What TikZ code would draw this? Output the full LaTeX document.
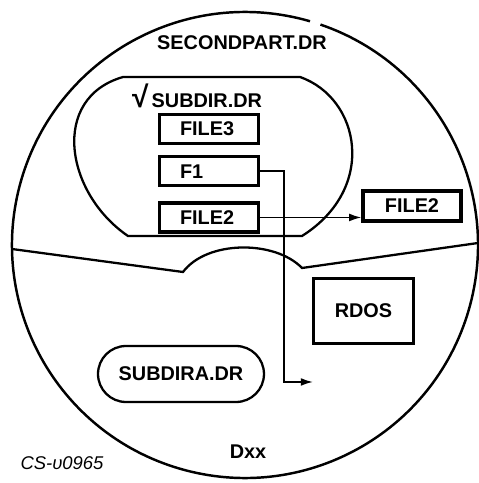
\documentclass[tikz,border=0pt]{standalone}
\usepackage{fontspec}
\setmainfont{Liberation Sans}
\usetikzlibrary{positioning,arrows.meta}

\begin{document}
\begin{tikzpicture}[scale=0.02,>={Latex[length=7pt,width=4.5pt]},
  lbl/.style={font=\fontsize{11.3}{13}\selectfont\bfseries},
  filebox/.style={lbl,draw,line width=1.9pt,minimum width=1.98cm,minimum height=0.58cm,inner sep=0pt},
  leftbox/.style={filebox,text width=1.16cm,inner xsep=0.41cm,align=left}]
  \useasboundingbox (0,0) rectangle (479,483);
  % the disk, with its small gap at the top
  \draw[line width=1.4pt] (245,238) ++(73.8:233) arc[start angle=73.8,end angle=431.1,radius=233];
  % SUBDIR.DR outline
  \draw[line width=1.3pt] (123,406) -- (300,406) .. controls (360,385) and (378,295) .. (302,247)
    -- (128,247) .. controls (65,290) and (50,385) .. (123,406) -- cycle;
  % partition line
  \draw[line width=1.3pt] (12,234) -- (183,211) .. controls (207,243) and (275,243) .. (302,215) -- (478,240);

  \node[lbl] (second) at (242,440) {SECONDPART.DR};
  \node[lbl] (subdir) at (197,387) {{\fontsize{17}{17}\selectfont √}\,SUBDIR.DR};
  \node[leftbox] (file3) at (209,354) {FILE3};
  \node[leftbox,below=0.2cm of file3] (f1) {F1};
  \node[leftbox,below=0.28cm of f1] (filetwo) {FILE2};
  \node[filebox,minimum width=1.96cm,minimum height=0.6cm] (copy) at (412,277) {FILE2};
  \node[filebox,minimum width=2cm,minimum height=1.3cm] (rdos) at (363.5,172) {RDOS};
  \node[lbl,draw,line width=1.3pt,rounded corners=0.56cm,minimum width=3.32cm,minimum height=1.12cm] (subdira) at (181,109) {SUBDIRA.DR};
  \node[lbl] (dxx) at (248,31) {Dxx};
  \node[font=\fontsize{10.5}{12}\selectfont\itshape] (csno) at (62,20) {CS-υ0965};

  \coordinate (fend) at (313,101);
  \draw[->,line width=1pt] (filetwo.east) -- (filetwo.east -| copy.west);
  \draw[->,line width=1pt] (f1.east) -- ++(24,0) |- (fend);
\end{tikzpicture}
\end{document}
